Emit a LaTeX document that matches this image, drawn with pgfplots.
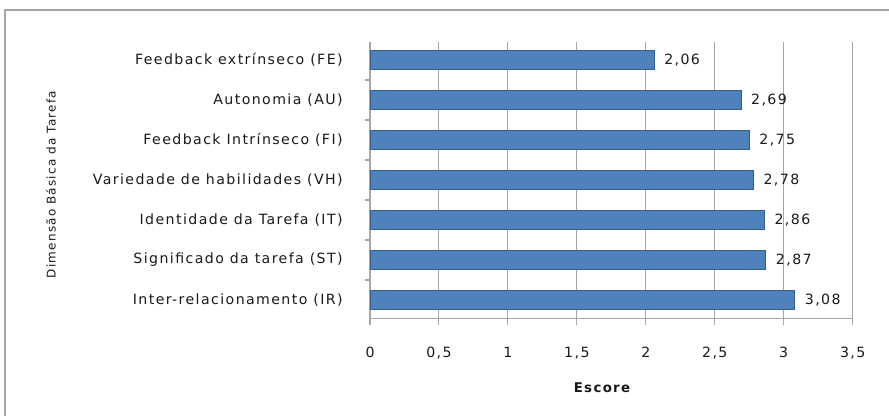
\documentclass[border=0pt]{standalone}
\usepackage{fontspec}
\setmainfont{DejaVu Sans}[LetterSpace=10]
\usepackage{pgfplots}
\pgfplotsset{compat=1.18}
\definecolor{barblue}{HTML}{4F81BD}
\definecolor{baredge}{HTML}{385D8A}
\definecolor{gridgray}{HTML}{A6A6A6}
\definecolor{txt}{HTML}{1A1A1A}
\begin{document}
\begin{tikzpicture}
\path[use as bounding box] (0,0) rectangle (666.75pt,312pt);
\draw[gray!70, line width=0.8pt] (3.75pt,0) -- (3.75pt,304.5pt) -- (666.75pt,304.5pt);
\begin{axis}[
  at={(277.5pt,73.5pt)}, anchor=south west,
  scale only axis, width=362pt, height=207pt,
  xbar, bar width=14pt,
  xmin=0, xmax=3.5, ymin=-0.45, ymax=6.45,
  xtick={0,0.5,...,3.5},
  ytick={0,...,6},
  yticklabels={Inter-relacionamento (IR),Significado da tarefa (ST),Identidade da Tarefa (IT),Variedade de habilidades (VH),Feedback Intrínseco (FI),Autonomia (AU),Feedback extrínseco (FE)},
  minor ytick={-0.5,0.5,...,6.5},
  axis x line*=bottom, axis y line*=left,
  axis line style={gridgray, -},
  xmajorgrids, major grid style={gridgray, line width=0.8pt},
  major x tick style={gridgray, line width=0.8pt},
  major y tick style={draw=none},
  minor y tick style={gridgray, line width=0.8pt},
  tick align=outside, major tick length=5pt, minor tick length=4pt,
  /pgf/number format/.cd, use comma, assume math mode=true, /pgfplots/.cd,
  tick label style={font=\fontsize{10.6}{12}\selectfont, text=txt},
  x tick label style={yshift=-13pt},
  y tick label style={xshift=-12pt},
  nodes near coords,
  nodes near coords style={font=\fontsize{10.6}{12}\selectfont, text=txt, anchor=west, xshift=4pt,
    /pgf/number format/.cd, fixed, fixed zerofill, precision=2, use comma, assume math mode=true},
]
\addplot[fill=barblue, draw=baredge, line width=0.6pt] coordinates {
(3.08,0) (2.87,1) (2.86,2) (2.78,3) (2.75,4) (2.69,5) (2.06,6)};
\end{axis}
\node[rotate=90, font=\fontsize{9}{11}\selectfont, text=txt] at (38.25pt,173.6pt) {Dimensão Básica da Tarefa};
\node[font=\fontsize{10}{12}\selectfont\bfseries, text=txt] at (451.5pt,21pt) {Escore};
\end{tikzpicture}
\end{document}
